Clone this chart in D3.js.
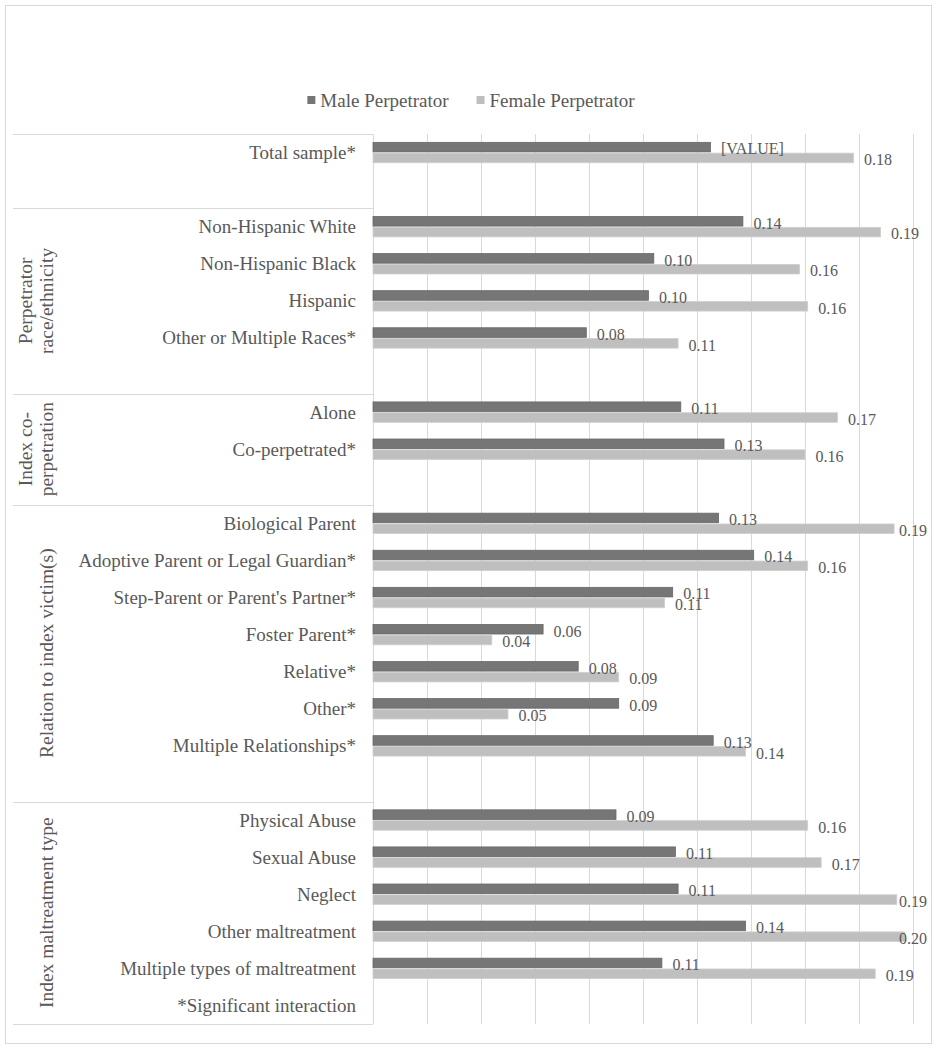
<!DOCTYPE html>
<html>
<head>
<meta charset="utf-8">
<script src="https://cdn.jsdelivr.net/npm/d3@7"></script>
<style>
  html, body { margin: 0; padding: 0; background: #fff; }
  svg { display: block; }
</style>
</head>
<body>
<svg id="chart" width="938" height="1050"></svg>
<script>
// ---- Data ----
const categories = [
  "Total sample*", "",
  "Non-Hispanic White", "Non-Hispanic Black", "Hispanic", "Other or Multiple Races*", "",
  "Alone", "Co-perpetrated*", "",
  "Biological Parent", "Adoptive Parent or Legal Guardian*", "Step-Parent or Parent's Partner*",
  "Foster Parent*", "Relative*", "Other*", "Multiple Relationships*", "",
  "Physical Abuse", "Sexual Abuse", "Neglect", "Other maltreatment",
  "Multiple types of maltreatment", "*Significant interaction"
];
const maleValues = [
  0.125, null,
  0.137, 0.104, 0.102, 0.079, null,
  0.114, 0.130, null,
  0.128, 0.141, 0.111, 0.063, 0.076, 0.091, 0.126, null,
  0.090, 0.112, 0.113, 0.138, 0.107, null
];
const femaleValues = [
  0.178, null,
  0.188, 0.158, 0.161, 0.113, null,
  0.172, 0.160, null,
  0.193, 0.161, 0.108, 0.044, 0.091, 0.050, 0.138, null,
  0.161, 0.166, 0.194, 0.197, 0.186, null
];
const maleLabelOverrides = ["[VALUE]"]; // label shown for index 0 (Total sample, male)
const groupLabels = [
  [],
  ["Perpetrator", "race/ethnicity"],
  ["Index co-", "perpetration"],
  ["Relation to index victim(s)"],
  ["Index maltreatment type"]
];
const groupSizes = [2, 5, 3, 8, 6];
const seriesNames = ["Male Perpetrator", "Female Perpetrator"];
const xTicks = [0, 0.02, 0.04, 0.06, 0.08, 0.10, 0.12, 0.14, 0.16, 0.18, 0.20];

// ---- Layout ----
const FONT = "'Liberation Serif', 'Times New Roman', Times, serif";
const plotLeft = 373, plotRight = 913, plotTop = 134, plotBottom = 1024;
const tableLeft = 13;
const colors = { male: "#767676", maleStroke: "#686868", female: "#bfbfbf", femaleStroke: "#cfcfcf", grid: "#d9d9d9", text: "#595959" };

const svg = d3.select("#chart");

// outer border
svg.append("rect").attr("x", 5.5).attr("y", 5.5).attr("width", 926).attr("height", 1038)
  .attr("fill", "#fff").attr("stroke", "#d9d9d9").attr("stroke-width", 1);

const x = d3.scaleLinear().domain([0, 0.2]).range([plotLeft, plotRight]);
const y = d3.scaleBand().domain(d3.range(categories.length)).range([plotTop, plotBottom]).paddingInner(0).paddingOuter(0);

// gridlines
svg.append("g").selectAll("line").data(xTicks).join("line")
  .attr("x1", d => Math.round(x(d)) + 0.5).attr("x2", d => Math.round(x(d)) + 0.5)
  .attr("y1", plotTop).attr("y2", plotBottom)
  .attr("stroke", colors.grid).attr("stroke-width", 1);

// group separators (table lines)
const starts = [0];
groupSizes.forEach((s, i) => starts.push(starts[i] + s));
const sepY = starts.map(i => i < categories.length ? y(i) : plotBottom);
svg.append("g").selectAll("line").data(sepY).join("line")
  .attr("x1", tableLeft).attr("x2", plotLeft)
  .attr("y1", d => Math.round(d) + 0.5).attr("y2", d => Math.round(d) + 0.5)
  .attr("stroke", colors.grid).attr("stroke-width", 1);

function txt(sel) {
  return sel.style("font-family", FONT).attr("fill", colors.text);
}

// category labels
const bw = y.bandwidth();
svg.append("g").selectAll("text").data(categories.map((c, i) => ({ c, i })).filter(d => d.c))
  .join("text")
  .call(txt)
  .attr("x", 356)
  .attr("y", d => y(d.i) + bw / 2)
  .attr("text-anchor", "end")
  .attr("dominant-baseline", "central")
  .attr("font-size", 19)
  .text(d => d.c);

// group labels (rotated)
groupLabels.forEach((lines, gi) => {
  if (!lines.length) return;
  const top = y(starts[gi]);
  const bottom = starts[gi + 1] < categories.length ? y(starts[gi + 1]) : plotBottom;
  const cy = (top + bottom) / 2;
  const lineH = 20.7;
  const lastBase = 52.5;
  lines.forEach((t, li) => {
    const bx = lastBase - (lines.length - 1 - li) * lineH;
    svg.append("text")
      .call(txt)
      .attr("transform", `translate(${bx},${cy}) rotate(-90)`)
      .attr("text-anchor", "middle")
      .attr("font-size", 19.5)
      .text(t);
  });
});

// bars
const barH = 9.6, gap = 1.2;
const fmt = d3.format(".2f");
const rows = categories.map((c, i) => ({ i, m: maleValues[i], f: femaleValues[i] }));
const gBars = svg.append("g");
rows.forEach(r => {
  const cy = y(r.i) + bw / 2;
  if (r.m != null) {
    gBars.append("rect").attr("x", x(0)).attr("y", cy - gap / 2 - barH)
      .attr("width", x(r.m) - x(0)).attr("height", barH)
      .attr("fill", colors.male).attr("stroke", colors.maleStroke).attr("stroke-width", 0.8);
  }
  if (r.f != null) {
    gBars.append("rect").attr("x", x(0)).attr("y", cy + gap / 2)
      .attr("width", x(r.f) - x(0)).attr("height", barH)
      .attr("fill", colors.female).attr("stroke", colors.femaleStroke).attr("stroke-width", 0.8);
  }
});

// data labels
const gLab = svg.append("g");
const rightLimit = 927;
rows.forEach(r => {
  const cy = y(r.i) + bw / 2;
  const items = [];
  if (r.m != null) items.push({ v: r.m, yc: cy - gap / 2 - barH / 2, t: (maleLabelOverrides[r.i] || fmt(r.m)) });
  if (r.f != null) items.push({ v: r.f, yc: cy + gap / 2 + barH / 2, t: fmt(r.f) });
  items.forEach(it => {
    const tx = gLab.append("text")
      .call(txt)
      .attr("x", x(it.v) + 10.5)
      .attr("y", it.yc + 1.8)
      .attr("dominant-baseline", "central")
      .attr("font-size", 16)
      .text(it.t);
    const w = tx.node().getComputedTextLength();
    if (x(it.v) + 10.5 + w > rightLimit) tx.attr("x", rightLimit - w);
  });
});

// legend
const legend = svg.append("g");
const legendColors = [colors.male, colors.female];
const items = seriesNames.map((n, i) => {
  const g = legend.append("g");
  g.append("rect").attr("width", 8).attr("height", 8).attr("y", -4).attr("fill", legendColors[i]);
  const t = g.append("text").call(txt).attr("x", 13).attr("y", 0).attr("dominant-baseline", "central")
    .attr("font-size", 19).text(n);
  return { g, w: 13 + t.node().getComputedTextLength() };
});
const legendGap = 28;
const totalW = d3.sum(items, d => d.w) + legendGap * (items.length - 1);
let lx = 471 - totalW / 2;
items.forEach(it => {
  it.g.attr("transform", `translate(${lx},100)`);
  lx += it.w + legendGap;
});
</script>
</body>
</html>
